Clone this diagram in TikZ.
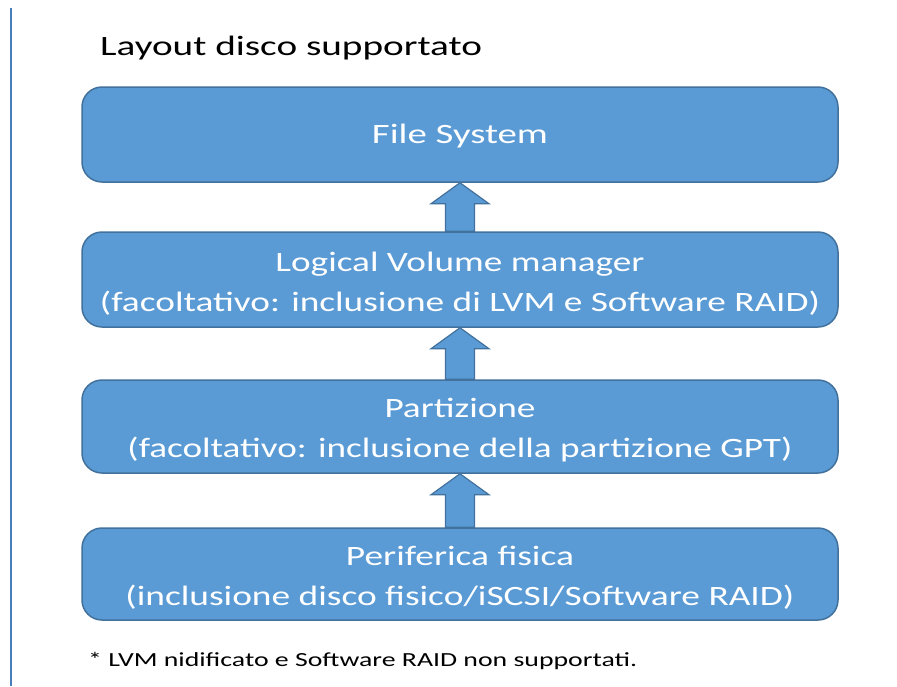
\documentclass[tikz,border=0pt]{standalone}
\usepackage{fontspec}
\usepackage{graphicx}
\setmainfont{Carlito}
\usetikzlibrary{calc}
\definecolor{boxfill}{HTML}{5B9BD5}
\definecolor{boxedge}{HTML}{41719C}
\definecolor{sideline}{HTML}{4A7EBB}
% stretch a line of text to a given width, keeping its height
\newcommand{\fitw}[2]{\resizebox{#1}{\height}{#2}}
\tikzset{
  layer/.style={draw=boxedge, line width=1.5pt, fill=boxfill, rounded corners=20pt,
    minimum width=756pt, minimum height=95pt, inner sep=0pt},
  layertext/.style={align=center, text=white, inner sep=0pt,
    font=\fontsize{28}{40}\selectfont},
  uparrow/.style={draw=boxedge, line width=1.2pt, fill=boxfill, line join=miter}
}
\newcommand{\stackarrow}[2]{%
  \draw[uparrow] (#1.south)
    -- ($(#1.south)+(29pt,-21pt)$) -- ($(#1.south)+(14.5pt,-21pt)$)
    -- ($(#2.north)+(14.5pt,0)$) -- ($(#2.north)+(-14.5pt,0)$)
    -- ($(#1.south)+(-14.5pt,-21pt)$) -- ($(#1.south)+(-29pt,-21pt)$) -- cycle;}
\begin{document}
\begin{tikzpicture}[x=1pt,y=-1pt]
\useasboundingbox[fill=white] (0,0) rectangle (897,686);
\draw[sideline, line width=1.5pt] (11,8) coordinate (lt) -- (11,686) coordinate (lb);
\node[anchor=west, inner sep=0pt, font=\fontsize{28}{32}\selectfont] (title) at (100,48)
  {\fitw{382pt}{Layout disco supportato}};
% layer boxes
\node[layer] (fs) at (460,134.5) {};
\node[layer] (lvm) at (460,279.5) {};
\node[layer, minimum height=93pt] (part) at (460,426.5) {};
\node[layer, minimum height=92pt] (dev) at (460,574) {};
% layer captions
\node[layertext] (fs-t) at ($(fs.center)+(0,-2pt)$) {\fitw{176pt}{File System}};
\node[layertext] (lvm-t) at ($(lvm.center)+(0,-4pt)$)
  {\fitw{369pt}{Logical Volume manager}\\\fitw{720pt}{(facoltativo: inclusione di LVM e Software RAID)}};
\node[layertext] (part-t) at ($(part.center)+(0,-4pt)$)
  {\fitw{151pt}{Partizione}\\\fitw{665pt}{(facoltativo: inclusione della partizione GPT)}};
\node[layertext] (dev-t) at ($(dev.center)+(0,-4pt)$)
  {\fitw{228pt}{Periferica fisica}\\\fitw{669pt}{(inclusione disco fisico/iSCSI/Software RAID)}};
% arrows between layers
\stackarrow{fs}{lvm}
\stackarrow{lvm}{part}
\stackarrow{part}{dev}
\node[anchor=west, inner sep=0pt, font=\fontsize{20}{22}\selectfont] (note) at (88,661)
  {\fitw{549pt}{* LVM nidificato e Software RAID non supportati.}};
\end{tikzpicture}
\end{document}
